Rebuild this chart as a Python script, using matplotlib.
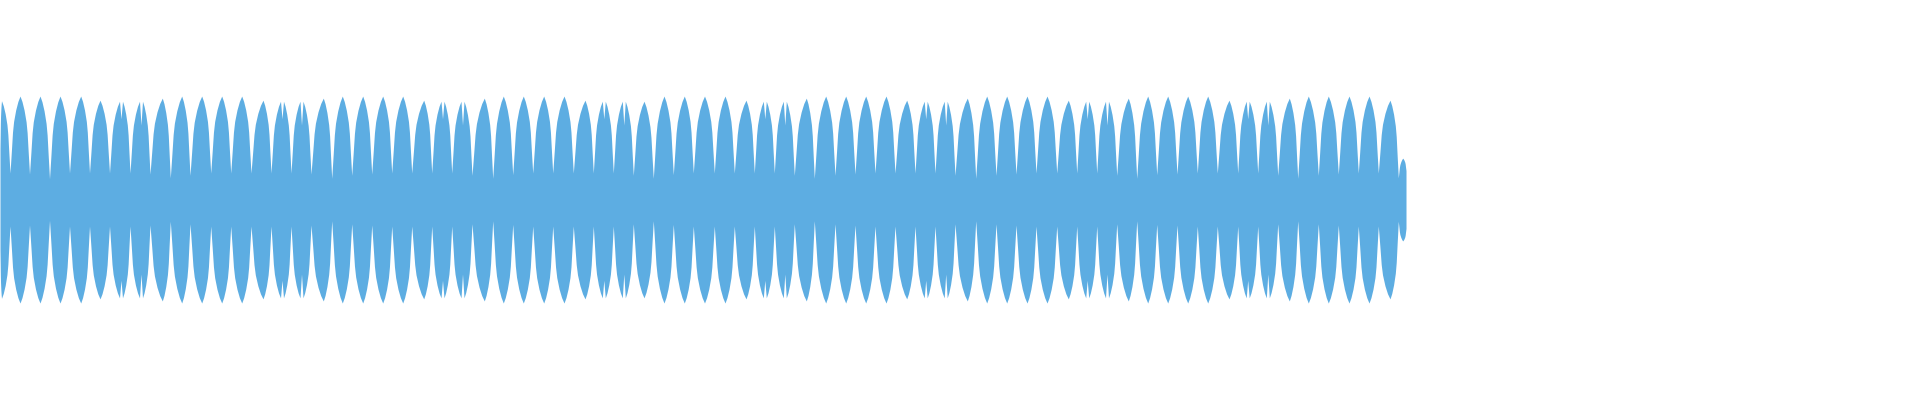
import matplotlib
matplotlib.use('Agg')
import matplotlib.pyplot as plt

# waveform envelope (x = screen column, amplitude 1.0 = loudest lobe)
peak_t = [1.5, 20, 40, 60, 80.7, 100, 121, 141,
          162.3, 181.7, 201.7, 221.7, 241.7, 263, 282, 301.5,
          323.3, 342.3, 362.7, 382.7, 402.7, 423.7, 442.5, 462.5,
          484.3, 503.3, 523.3, 543.7, 564, 585, 603.8, 623.8,
          644, 664, 684.3, 704.5, 725, 746, 764.8, 784.8,
          806.3, 825.7, 845.7, 865.7, 886, 906.7, 925.7, 945.7,
          967.3, 986.7, 1006.7, 1027, 1047, 1068.3, 1087.2, 1107,
          1128.3, 1147.7, 1167.7, 1187.7, 1207.7, 1229, 1247.7, 1267.8,
          1289.3, 1308.3, 1328.3, 1349, 1369, 1390,
          1402.7]
peak_a = [0.955, 1.0, 1.0, 1.0, 1.0, 0.96, 0.95, 0.95,
          0.98, 1.0, 1.0, 1.0, 1.0, 0.96, 0.95, 0.95,
          0.98, 1.0, 1.0, 1.0, 1.0, 0.96, 0.95, 0.95,
          0.98, 1.0, 1.0, 1.0, 1.0, 0.96, 0.95, 0.95,
          0.95, 1.0, 1.0, 1.0, 1.0, 0.96, 0.95, 0.95,
          0.98, 1.0, 1.0, 1.0, 1.0, 0.96, 0.95, 0.95,
          0.98, 1.0, 1.0, 1.0, 1.0, 0.96, 0.95, 0.95,
          0.98, 1.0, 1.0, 1.0, 1.0, 0.96, 0.95, 0.95,
          0.98, 1.0, 1.0, 1.0, 1.0, 0.96,
          0.40]
# notch in the middle of the double-spiked lobes (0 = no notch)
dip_a = [0, 0, 0, 0, 0, 0, 0.78, 0.72,
         0, 0, 0, 0, 0, 0, 0.78, 0.72,
         0, 0, 0, 0, 0, 0, 0.78, 0.72,
         0, 0, 0, 0, 0, 0, 0.78, 0.72,
         0, 0, 0, 0, 0, 0, 0.78, 0.72,
         0, 0, 0, 0, 0, 0, 0.78, 0.72,
         0, 0, 0, 0, 0, 0, 0.78, 0.72,
         0, 0, 0, 0, 0, 0, 0.78, 0.72,
         0, 0, 0, 0, 0, 0,
         0]
trough_t = [0, 10, 29.5, 49.5, 69.5, 89.5, 109.5, 130, 150,
            170.3, 190, 210.7, 230.7, 251, 271, 291, 311,
            331.7, 351.7, 371.7, 391.7, 411.7, 431.7, 451.7, 472,
            492.7, 512.7, 532.7, 552.7, 573.3, 593.3, 613.3, 633.3,
            653.3, 673.3, 693.3, 714.3, 734.3, 754.3, 774.3, 794.3,
            814.3, 835, 855, 875, 895, 915, 935, 955,
            975.7, 996, 1016, 1036, 1056.7, 1076.7, 1096.7, 1116.7,
            1136.7, 1156.7, 1177, 1197.3, 1217.3, 1237.7, 1257.7, 1277.7,
            1297.7, 1318.3, 1338.3, 1358.3, 1378.3, 1398.3,
            1406]
trough_a = [0.49, 0.256, 0.246, 0.20, 0.256, 0.256, 0.256, 0.256, 0.246,
            0.21, 0.234, 0.256, 0.256, 0.256, 0.256, 0.256, 0.246,
            0.205, 0.234, 0.246, 0.256, 0.256, 0.256, 0.256, 0.234,
            0.205, 0.24, 0.256, 0.256, 0.256, 0.256, 0.256, 0.234,
            0.205, 0.24, 0.256, 0.256, 0.256, 0.256, 0.256, 0.234,
            0.205, 0.234, 0.246, 0.256, 0.256, 0.256, 0.256, 0.234,
            0.205, 0.234, 0.246, 0.256, 0.256, 0.256, 0.256, 0.234,
            0.205, 0.24, 0.246, 0.256, 0.256, 0.256, 0.256, 0.234,
            0.205, 0.234, 0.246, 0.256, 0.256, 0.21,
            0.28]

# flank profile of one lobe (trough -> crest), measured on a full lobe
flank_pos = [0.14, 0.25, 0.36, 0.57, 0.79]
flank_lev = [0.29, 0.53, 0.67, 0.82, 0.93]

xs, ys = [trough_t[0]], [trough_a[0]]
for i in range(len(peak_t)):
    t0, b0 = trough_t[i], trough_a[i]
    t1, b1 = trough_t[i + 1], trough_a[i + 1]
    p, a = peak_t[i], peak_a[i]
    if dip_a[i] > 0:
        crest = [(p - 1.5, a), (p, dip_a[i]), (p + 1.5, a)]
    else:
        crest = [(p, a)]
    cl_t, cl_a = crest[0]
    cr_t, cr_a = crest[-1]
    for f, g in zip(flank_pos, flank_lev):
        xs.append(t0 + f * (cl_t - t0))
        ys.append(b0 + g * (cl_a - b0))
    for ct, ca in crest:
        xs.append(ct)
        ys.append(ca)
    for f, g in zip(flank_pos[::-1], flank_lev[::-1]):
        xs.append(t1 - f * (t1 - cr_t))
        ys.append(b1 + g * (cr_a - b1))
    xs.append(t1)
    ys.append(b1)
xs.append(trough_t[-1])
ys.append(0)

fig = plt.figure(figsize=(19.2, 4), dpi=100)
ax = fig.add_axes([0, 0, 1, 1])
ax.fill_between(xs, [-y for y in ys], ys, color='#5DADE2', linewidth=0)
ax.set_xlim(0, 1920)
ax.set_ylim(-1.937, 1.928)
ax.axis('off')

plt.savefig('out.png', dpi=100, facecolor='white')
